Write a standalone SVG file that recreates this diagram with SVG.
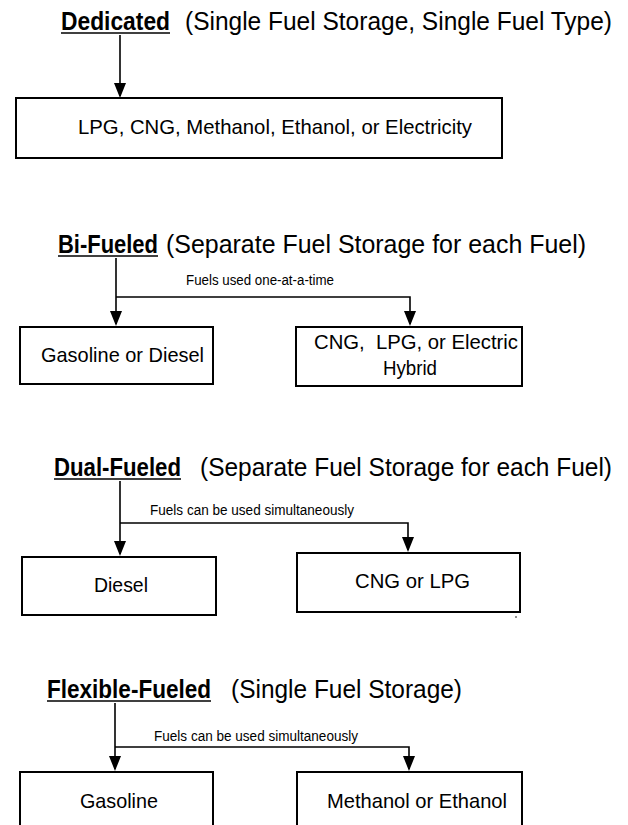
<svg xmlns="http://www.w3.org/2000/svg" width="628" height="825" viewBox="0 0 628 825">
<defs>
<style>
text{font-family:"Liberation Sans",Arial,sans-serif;fill:#000}
.h{font-size:25px;font-weight:bold}
.p{font-size:25px}
.b{font-size:21px}
.s{font-size:14px}
.box{fill:#fff;stroke:#000;stroke-width:2}
.ln{fill:none;stroke:#000;stroke-width:1.6}
.arr{marker-end:url(#ah)}
.ul{stroke:#000;stroke-width:1.6}
</style>
<marker id="ah" viewBox="0 0 15 12" refX="13" refY="6" markerWidth="15" markerHeight="12" markerUnits="userSpaceOnUse" orient="auto">
<path d="M0,0 L15,6 L0,12 Z" fill="#000"/>
</marker>
</defs>
<rect width="628" height="825" fill="#fff"/>

<g id="connectors">
<path class="ln arr" d="M120,35 V96"/>
<path class="ln arr" d="M116,258 V324"/>
<path class="ln arr" d="M116,297 H410 V324"/>
<path class="ln arr" d="M120,481 V554"/>
<path class="ln arr" d="M120,523 H408 V550"/>
<path class="ln arr" d="M115,703 V769"/>
<path class="ln arr" d="M115,747 H409 V769"/>
</g>

<g id="dedicated">
<text class="h" x="61" y="30" textLength="109" lengthAdjust="spacingAndGlyphs">Dedicated</text>
<line class="ul" x1="61" y1="33" x2="170" y2="33"/>
<text class="p" x="185" y="30" textLength="427" lengthAdjust="spacingAndGlyphs">(Single Fuel Storage, Single Fuel Type)</text>
</g>
<g id="dedicated-fuels">
<rect class="box" x="16" y="98" width="486" height="60"/>
<text class="b" x="78" y="134" textLength="394" lengthAdjust="spacingAndGlyphs">LPG, CNG, Methanol, Ethanol, or Electricity</text>
</g>

<g id="bi-fueled">
<text class="h" x="58" y="253" textLength="100" lengthAdjust="spacingAndGlyphs">Bi-Fueled</text>
<line class="ul" x1="58" y1="256" x2="158" y2="256"/>
<text class="p" x="166" y="253" textLength="420" lengthAdjust="spacingAndGlyphs">(Separate Fuel Storage for each Fuel)</text>
<text class="s" x="186" y="285" textLength="148" lengthAdjust="spacingAndGlyphs">Fuels used one-at-a-time</text>
</g>
<g id="bi-gasoline-diesel">
<rect class="box" x="20" y="327" width="193" height="57"/>
<text class="b" x="41" y="362" textLength="163" lengthAdjust="spacingAndGlyphs">Gasoline or Diesel</text>
</g>
<g id="bi-cng-lpg-electric">
<rect class="box" x="296" y="327" width="226" height="59"/>
<text class="b" x="314" y="349" textLength="204" lengthAdjust="spacingAndGlyphs" xml:space="preserve">CNG,  LPG, or Electric</text>
<text class="b" x="383" y="375" textLength="54" lengthAdjust="spacingAndGlyphs">Hybrid</text>
</g>

<g id="dual-fueled">
<text class="h" x="54" y="476" textLength="127" lengthAdjust="spacingAndGlyphs">Dual-Fueled</text>
<line class="ul" x1="54" y1="479" x2="181" y2="479"/>
<text class="p" x="200" y="476" textLength="412" lengthAdjust="spacingAndGlyphs">(Separate Fuel Storage for each Fuel)</text>
<text class="s" x="150" y="515" textLength="204" lengthAdjust="spacingAndGlyphs">Fuels can be used simultaneously</text>
</g>
<g id="dual-diesel">
<rect class="box" x="22" y="557" width="194" height="58"/>
<text class="b" x="94" y="592" textLength="54" lengthAdjust="spacingAndGlyphs">Diesel</text>
</g>
<g id="dual-cng-lpg">
<rect class="box" x="297" y="553" width="223" height="59"/>
<text class="b" x="355" y="588" textLength="115" lengthAdjust="spacingAndGlyphs">CNG or LPG</text>
<circle cx="516" cy="617" r="0.8" fill="#000"/>
</g>

<g id="flexible-fueled">
<text class="h" x="47" y="698" textLength="164" lengthAdjust="spacingAndGlyphs">Flexible-Fueled</text>
<line class="ul" x1="47" y1="701" x2="211" y2="701"/>
<text class="p" x="231" y="698" textLength="231" lengthAdjust="spacingAndGlyphs">(Single Fuel Storage)</text>
<text class="s" x="154" y="741" textLength="204" lengthAdjust="spacingAndGlyphs">Fuels can be used simultaneously</text>
</g>
<g id="flex-gasoline">
<rect class="box" x="20" y="772" width="193" height="80"/>
<text class="b" x="80" y="808" textLength="78" lengthAdjust="spacingAndGlyphs">Gasoline</text>
</g>
<g id="flex-methanol-ethanol">
<rect class="box" x="297" y="772" width="225" height="80"/>
<text class="b" x="327" y="808" textLength="180" lengthAdjust="spacingAndGlyphs">Methanol or Ethanol</text>
</g>
</svg>
